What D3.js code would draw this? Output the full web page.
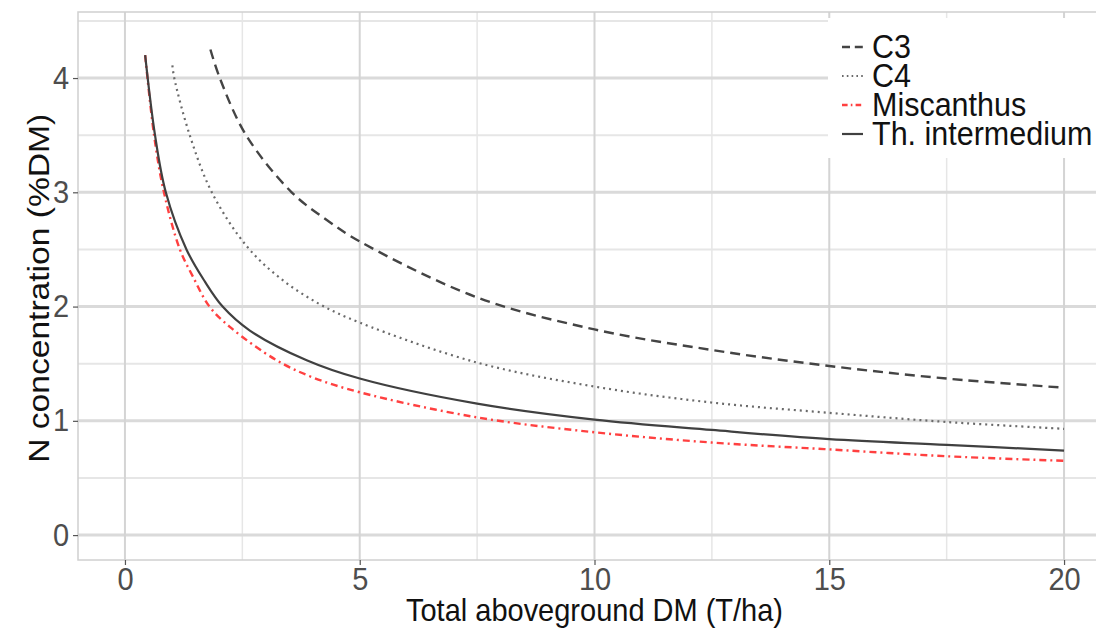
<!DOCTYPE html>
<html lang="en">
<head>
  <meta charset="UTF-8">
  <title>N dilution curves</title>
  <script src="https://d3js.org/d3.v7.min.js"></script>
  <style>
    body { margin: 0; background: #fff; }
    svg { display: block; font-family: "Liberation Sans", Arial, sans-serif; }
  </style>
</head>
<body>
  <svg id="chart" width="1096" height="630"></svg>
  <script>
    // values: [DM, N%]
    const c3 = [[1.82,4.25],[2.02,4.00],[2.58,3.50],[3.55,3.00],[4.29,2.76],[5,2.57],[7.5,2.08],
                [10,1.80],[12.5,1.62],[15,1.48],[17.5,1.37],[20,1.29]];
    const c4 = [[1.01,4.11],[1.05,4.00],[1.38,3.50],[1.85,3.00],[2.59,2.53],[3.30,2.25],[4.15,2.02],
                [5,1.86],[7.5,1.51],[10,1.30],[12.5,1.16],[15,1.07],[17.5,0.99],[20,0.93]];
    const miscanthus = [[0.43,4.20],[0.62,3.50],[0.83,3.00],[1.17,2.50],[1.45,2.26],[1.80,2.00],
                        [2.24,1.82],[3.23,1.53],[4,1.38],[5,1.25],[7.5,1.03],[10,0.90],[12.5,0.81],
                        [15,0.75],[17.5,0.69],[20,0.65]];
    const thIntermedium = [[0.43,4.20],[0.64,3.50],[0.87,3.00],[1.31,2.50],[1.70,2.22],[2.08,2.00],
                           [2.66,1.79],[3.87,1.53],[5,1.37],[7.5,1.15],[10,1.01],[12.5,0.92],
                           [15,0.84],[17.5,0.79],[20,0.74]];

    const seriesNames = ['C3', 'C4', 'Miscanthus', 'Th. intermedium'];
    const xTicks = [0, 5, 10, 15, 20];
    const xMinor = [2.5, 7.5, 12.5, 17.5];
    const yTicks = [0, 1, 2, 3, 4];
    const yMinor = [0.5, 1.5, 2.5, 3.5, 4.5];

    const styles = {
      'C3':              { color: '#444444', width: 2.4, dash: '10,6' },
      'C4':              { color: '#6a6a6a', width: 2.2, dash: '2,4' },
      'Miscanthus':      { color: '#ff4040', width: 2.4, dash: '7,4,2,4' },
      'Th. intermedium': { color: '#404040', width: 2.2, dash: null }
    };
    const dataByName = {
      'C3': c3, 'C4': c4, 'Miscanthus': miscanthus, 'Th. intermedium': thIntermedium
    };

    const svg = d3.select('#chart');
    const pLeft = 78, pTop = 12, pBottom = 560, pRight = 1111;
    const stretch = 'scale(1,1.08)';   // reference text is a little taller than wide

    const x = d3.scaleLinear().domain([-1, 21]).range([pLeft, pRight]);
    const y = d3.scaleLinear().domain([-0.218, 4.578]).range([pBottom, pTop]);

    const panel = svg.append('g');
    panel.append('rect')
      .attr('x', pLeft).attr('y', pTop)
      .attr('width', pRight - pLeft).attr('height', pBottom - pTop)
      .attr('fill', '#fff');

    // minor grid
    panel.selectAll('.ym').data(yMinor).enter().append('line')
      .attr('x1', pLeft).attr('x2', pRight)
      .attr('y1', d => y(d)).attr('y2', d => y(d))
      .attr('stroke', '#e6e6e6').attr('stroke-width', 2);
    panel.selectAll('.xm').data(xMinor).enter().append('line')
      .attr('y1', pTop).attr('y2', pBottom)
      .attr('x1', d => x(d)).attr('x2', d => x(d))
      .attr('stroke', '#e6e6e6').attr('stroke-width', 1.5);
    // major grid
    panel.selectAll('.yM').data(yTicks).enter().append('line')
      .attr('x1', pLeft).attr('x2', pRight)
      .attr('y1', d => y(d)).attr('y2', d => y(d))
      .attr('stroke', '#dadada').attr('stroke-width', 3);
    panel.selectAll('.xM').data(xTicks).enter().append('line')
      .attr('y1', pTop).attr('y2', pBottom)
      .attr('x1', d => x(d)).attr('x2', d => x(d))
      .attr('stroke', '#d4d4d4').attr('stroke-width', 2);

    // border
    panel.append('rect')
      .attr('x', pLeft).attr('y', pTop)
      .attr('width', pRight - pLeft).attr('height', pBottom - pTop)
      .attr('fill', 'none').attr('stroke', '#d0d0d0').attr('stroke-width', 1.5);

    // curves
    const line = d3.line()
      .x(d => x(d[0])).y(d => y(d[1]))
      .curve(d3.curveCatmullRom.alpha(0.5));

    seriesNames.forEach(name => {
      const s = styles[name];
      svg.append('path')
        .datum(dataByName[name])
        .attr('d', line)
        .attr('fill', 'none')
        .attr('stroke', s.color)
        .attr('stroke-width', s.width)
        .attr('stroke-dasharray', s.dash);
    });

    // axes
    const xAxis = svg.append('g')
      .attr('transform', `translate(0,${pBottom})`)
      .call(d3.axisBottom(x).tickValues(xTicks).tickFormat(d3.format('d')).tickSize(5).tickPadding(2));
    const yAxis = svg.append('g')
      .attr('transform', `translate(${pLeft},0)`)
      .call(d3.axisLeft(y).tickValues(yTicks).tickFormat(d3.format('d')).tickSize(5).tickPadding(4));
    [xAxis, yAxis].forEach(a => {
      a.select('.domain').remove();
      a.selectAll('.tick line').attr('stroke', '#555').attr('stroke-width', 1.2);
      a.selectAll('.tick text')
        .attr('fill', '#4d4d4d')
        .attr('transform', stretch)
        .style('font-size', '29px')
        .style('font-family', '"Liberation Sans", Arial, sans-serif');
    });

    svg.append('text')
      .attr('transform', `translate(${x(10)},621) ${stretch}`)
      .attr('text-anchor', 'middle')
      .attr('fill', '#111')
      .style('font-size', '29px')
      .text('Total aboveground DM (T/ha)');

    svg.append('text')
      .attr('transform', `translate(49,${y(2.16)}) rotate(-90) scale(1.12,1)`)
      .attr('text-anchor', 'middle')
      .attr('fill', '#111')
      .style('font-size', '30px')
      .text('N concentration (%DM)');

    // legend
    const legend = svg.append('g').attr('transform', 'translate(828,18)');
    legend.append('rect')
      .attr('x', 0).attr('y', 0)
      .attr('width', 280).attr('height', 140)
      .attr('fill', '#fff');
    seriesNames.forEach((name, i) => {
      const s = styles[name];
      const cy = 29 + i * 29;
      legend.append('line')
        .attr('x1', 14).attr('x2', 35)
        .attr('y1', cy).attr('y2', cy)
        .attr('stroke', s.color)
        .attr('stroke-width', s.width)
        .attr('stroke-dasharray', s.dash ? s.dash.split(',').map(v => v * 0.8).join(',') : null);
      legend.append('text')
        .attr('transform', `translate(44,${cy + 11}) ${stretch}`)
        .attr('fill', '#111')
        .style('font-size', '30.5px')
        .text(name);
    });
  </script>
</body>
</html>
